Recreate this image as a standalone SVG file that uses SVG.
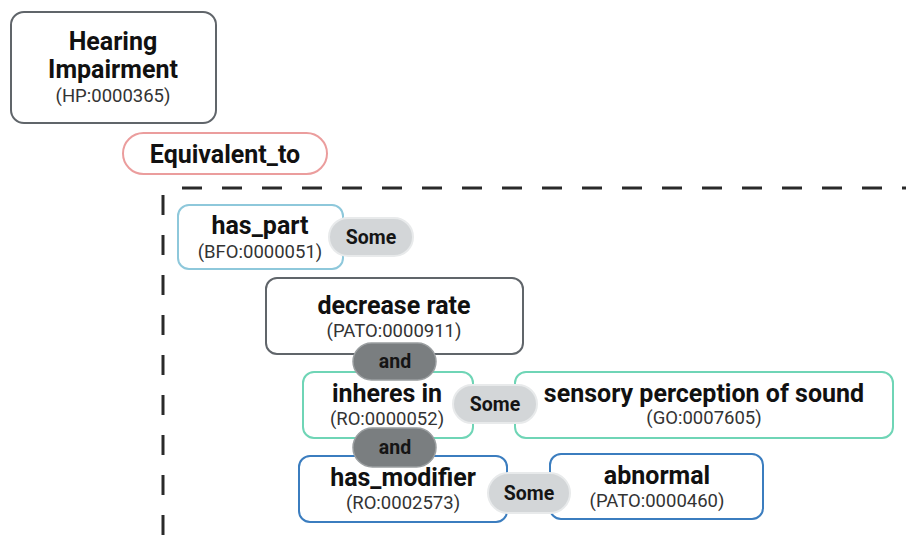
<svg xmlns="http://www.w3.org/2000/svg" width="906" height="542" viewBox="0 0 906 542">
  <style>
    .box { fill: #ffffff; stroke-width: 2; }
    .grey { stroke: #60656a; }
    .pink { stroke: #eb9d9d; }
    .sky { stroke: #8ec8db; }
    .teal { stroke: #6fd5b6; }
    .blue { stroke: #3b7dbf; }
    .some { fill: #d3d6d8; stroke: #e8eaeb; stroke-width: 2; }
    .and { fill: #7a7e80; stroke: #9a9ea0; stroke-width: 1.5; }
    .title { font-family: Roboto, "Liberation Sans", sans-serif; font-weight: 700; font-size: 25px; fill: #111111; text-anchor: middle; }
    .id { font-family: Roboto, "Liberation Sans", sans-serif; font-weight: 400; font-size: 18.5px; fill: #333333; text-anchor: middle; }
    .op { font-family: Roboto, "Liberation Sans", sans-serif; font-weight: 700; font-size: 19.5px; fill: #151515; text-anchor: middle; }
    .dash { fill: none; stroke: #2a2a2a; stroke-width: 3; stroke-dasharray: 20 20; }
  </style>

  <!-- dashed bracket enclosing the class expression -->
  <g id="connectors">
    <line class="dash" x1="182" y1="188" x2="906" y2="188"/>
    <line class="dash" x1="163" y1="535" x2="163" y2="195"/>
  </g>

  <g id="hearing-impairment">
    <rect class="box grey" x="11" y="12" width="205" height="111" rx="13"/>
    <text class="title" x="113" y="50">Hearing</text>
    <text class="title" x="113" y="78">Impairment</text>
    <text class="id" x="113" y="102">(HP:0000365)</text>
  </g>

  <g id="equivalent-to">
    <rect class="box pink" x="123" y="133" width="204" height="41" rx="20.5"/>
    <text class="title" x="225" y="163">Equivalent_to</text>
  </g>

  <g id="has-part">
    <rect class="box sky" x="178" y="205" width="165" height="64" rx="11"/>
    <text class="title" x="260" y="234">has_part</text>
    <text class="id" x="260" y="258">(BFO:0000051)</text>
  </g>

  <g id="some-1">
    <rect class="some" x="329" y="218" width="84" height="38" rx="19"/>
    <text class="op" x="371" y="244">Some</text>
  </g>

  <g id="decrease-rate">
    <rect class="box grey" x="266" y="278" width="257" height="76" rx="11"/>
    <text class="title" x="394" y="314">decrease rate</text>
    <text class="id" x="394" y="337">(PATO:0000911)</text>
  </g>

  <g id="inheres-in">
    <rect class="box teal" x="303" y="372" width="170" height="66" rx="11"/>
    <text class="title" x="387" y="402">inheres in</text>
    <text class="id" x="387" y="425">(RO:0000052)</text>
  </g>

  <g id="sensory-perception-of-sound">
    <rect class="box teal" x="515" y="372" width="378" height="66" rx="11"/>
    <text class="title" x="704" y="402">sensory perception of sound</text>
    <text class="id" x="704" y="424">(GO:0007605)</text>
  </g>

  <g id="and-1">
    <rect class="and" x="353" y="343" width="83" height="37" rx="18.5"/>
    <text class="op" x="395" y="368">and</text>
  </g>

  <g id="some-2">
    <rect class="some" x="453" y="385" width="84" height="38" rx="19"/>
    <text class="op" x="495" y="411">Some</text>
  </g>

  <g id="has-modifier">
    <rect class="box blue" x="299" y="456" width="208" height="66" rx="11"/>
    <text class="title" x="403" y="486">has_modifier</text>
    <text class="id" x="403" y="509">(RO:0002573)</text>
  </g>

  <g id="abnormal">
    <rect class="box blue" x="550" y="454" width="213" height="65" rx="11"/>
    <text class="title" x="657" y="484">abnormal</text>
    <text class="id" x="657" y="507">(PATO:0000460)</text>
  </g>

  <g id="and-2">
    <rect class="and" x="353" y="428" width="83" height="39" rx="19.5"/>
    <text class="op" x="395" y="454">and</text>
  </g>

  <g id="some-3">
    <rect class="some" x="488" y="473" width="82" height="40" rx="20"/>
    <text class="op" x="529" y="500">Some</text>
  </g>
</svg>
